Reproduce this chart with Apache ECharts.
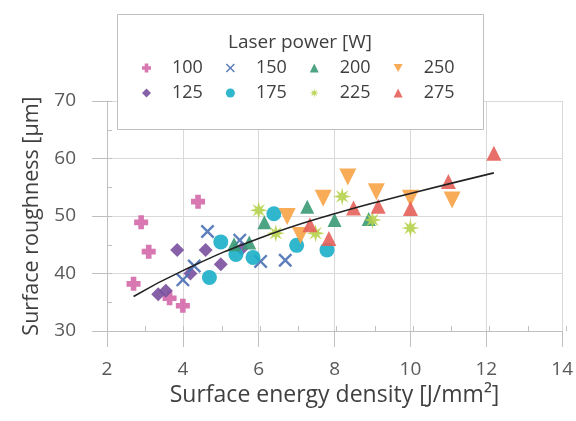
<!DOCTYPE html>
<html lang="en">
<head>
    <meta charset="UTF-8">
    <title>Surface roughness</title>
    <script src="https://cdn.jsdelivr.net/npm/echarts@6/dist/echarts.min.js"></script>
</head>
<body style="margin:0;">
<div id="chart" style="width:576px;height:421px;"></div>
<script type="text/javascript">

    // laser power levels [W]
    var powers = ['100', '125', '150', '175', '200', '225', '250', '275'];

    // surface energy density [J/mm2] and roughness [um], one pair of arrays per power
    var e100 = [2.7, 2.9, 3.1, 3.65, 4.0, 4.4];
    var r100 = [38.2, 48.9, 43.8, 35.7, 34.4, 52.5];
    var e125 = [3.35, 3.55, 3.85, 4.2, 4.6, 5.0, 5.55];
    var r125 = [36.4, 37.0, 44.1, 40.0, 44.1, 41.6, 44.3];
    var e150 = [4.0, 4.3, 4.65, 5.5, 6.05, 6.7];
    var r150 = [38.9, 41.3, 47.3, 45.8, 42.1, 42.3];
    var e175 = [4.7, 5.0, 5.4, 5.85, 6.4, 7.0, 7.8];
    var r175 = [39.3, 45.5, 43.3, 42.8, 50.4, 44.9, 44.1];
    var e200 = [5.35, 5.75, 6.15, 7.28, 8.0, 8.9];
    var r200 = [45.1, 45.4, 48.9, 51.6, 49.3, 49.5];
    var e225 = [6.0, 6.45, 7.5, 8.2, 9.0, 10.0];
    var r225 = [51.0, 47.0, 47.0, 53.4, 49.3, 47.9];
    var e250 = [6.75, 7.1, 7.7, 8.35, 9.1, 10.0, 11.1];
    var r250 = [49.9, 46.6, 53.1, 56.8, 54.2, 53.1, 52.8];
    var e275 = [7.35, 7.85, 8.5, 9.15, 10.0, 11.0, 12.2];
    var r275 = [48.5, 46.1, 51.4, 51.7, 51.3, 56.0, 60.9];

    // trend line
    var trendE = [2.7, 4, 6, 8, 10, 12.2];
    var trendR = [36.0, 40.5, 46.1, 50.4, 53.9, 57.5];

    var xTicks = [2, 14, 2];
    var yTicks = [30, 70, 10];

    var colors = ['#d468a8', '#7a509e', '#4a70b4', '#1aaec8', '#3a9a74', '#b6d24c', '#f7a346', '#e6605a'];
    var symbols = [
        'path://M3,0H7V3H10V7H7V10H3V7H0V3H3Z',
        'diamond',
        'path://M0,1.2L1.2,0L5,3.8L8.8,0L10,1.2L6.2,5L10,8.8L8.8,10L5,6.2L1.2,10L0,8.8L3.8,5Z',
        'circle',
        'triangle',
        'path://M5,0L5.8,3.2L8.5,1.5L6.8,4.2L10,5L6.8,5.8L8.5,8.5L5.8,6.8L5,10L4.2,6.8L1.5,8.5L3.2,5.8L0,5L3.2,4.2L1.5,1.5L4.2,3.2Z',
        'path://M0,0L10,0L5,8.66Z',
        'triangle'
    ];
    var sizes = [14, 14, 14, 15, 14, 18, 17, 15];

    var energies = [e100, e125, e150, e175, e200, e225, e250, e275];
    var roughs = [r100, r125, r150, r175, r200, r225, r250, r275];

    function pairs(a, b) {
        var out = [];
        for (var i = 0; i < a.length; i++) out.push([a[i], b[i]]);
        return out;
    }

    var chart = echarts.init(document.getElementById('chart'));

    var series = [];
    for (var k = 0; k < powers.length; k++) {
        series.push({
            name: powers[k],
            type: 'scatter',
            symbol: symbols[k],
            symbolSize: sizes[k],
            itemStyle: {color: colors[k], opacity: 0.9},
            data: pairs(energies[k], roughs[k])
        });
    }
    series.push({
        name: 'trend',
        type: 'line',
        smooth: true,
        showSymbol: false,
        silent: true,
        z: 5,
        lineStyle: {color: '#222', width: 1.6},
        data: pairs(trendE, trendR)
    });

    var axisGrey = '#bfbfbf';
    var labelFont = {color: '#595959', fontSize: 19, fontFamily: 'Open Sans'};

    var legendCommon = {
        orient: 'horizontal',
        itemWidth: 9,
        itemHeight: 9,
        itemGap: 23,
        z: 20,
        textStyle: {color: '#404040', fontSize: 18, fontFamily: 'Open Sans', padding: [0, 0, 0, 16]}
    };

    var option = {
        animation: false,
        textStyle: {fontFamily: 'Open Sans'},
        graphic: [{
            type: 'rect',
            z: 15,
            shape: {x: 117.5, y: 14.5, width: 366, height: 115},
            style: {fill: '#fff', stroke: axisGrey, lineWidth: 1}
        }],
        title: {
            text: 'Laser power [W]',
            left: 295,
            top: 28,
            textAlign: 'center',
            z: 20,
            textStyle: {color: '#404040', fontSize: 19, fontWeight: 'normal', fontFamily: 'Open Sans'}
        },
        legend: [
            Object.assign({}, legendCommon, {left: 137, top: 54, data: ['100', '150', '200', '250']}),
            Object.assign({}, legendCommon, {left: 137, top: 79, data: ['125', '175', '225', '275']})
        ],
        grid: [
            {left: 107, right: 10, top: 101, bottom: 90},
            {left: 107, right: 10, top: 101, bottom: 90}
        ],
        xAxis: [{
            type: 'value',
            min: xTicks[0], max: xTicks[1], interval: xTicks[2],
            name: 'Surface energy density [J/mm²]',
            nameLocation: 'middle',
            nameGap: 46,
            nameTextStyle: {color: '#404040', fontSize: 23, fontFamily: 'Open Sans'},
            axisLine: {lineStyle: {color: axisGrey}},
            axisTick: {length: 16, lineStyle: {color: axisGrey}},
            axisLabel: Object.assign({margin: 29}, labelFont),
            splitLine: {lineStyle: {color: '#d9d9d9'}}
        }, {
            type: 'value', gridIndex: 1,
            min: xTicks[0], max: xTicks[1], interval: 1,
            axisLine: {show: false},
            axisTick: {inside: true, length: 5, lineStyle: {color: axisGrey}},
            axisLabel: {show: false},
            splitLine: {show: false}
        }],
        yAxis: [{
            type: 'value',
            min: yTicks[0], max: yTicks[1], interval: yTicks[2],
            name: 'Surface roughness [µm]',
            nameLocation: 'middle',
            nameGap: 64,
            nameTextStyle: {color: '#404040', fontSize: 21.5, fontFamily: 'Open Sans'},
            axisLine: {show: true, lineStyle: {color: axisGrey}},
            axisTick: {show: true, length: 15, lineStyle: {color: axisGrey}},
            axisLabel: Object.assign({margin: 31}, labelFont),
            splitLine: {lineStyle: {color: '#d9d9d9'}}
        }, {
            type: 'value', gridIndex: 1,
            min: yTicks[0], max: yTicks[1], interval: 5,
            axisLine: {show: false},
            axisTick: {show: true, inside: true, length: 5, lineStyle: {color: axisGrey}},
            axisLabel: {show: false},
            splitLine: {show: false}
        }],
        series: series
    };

    chart.setOption(option);
</script>
</body>
</html>
